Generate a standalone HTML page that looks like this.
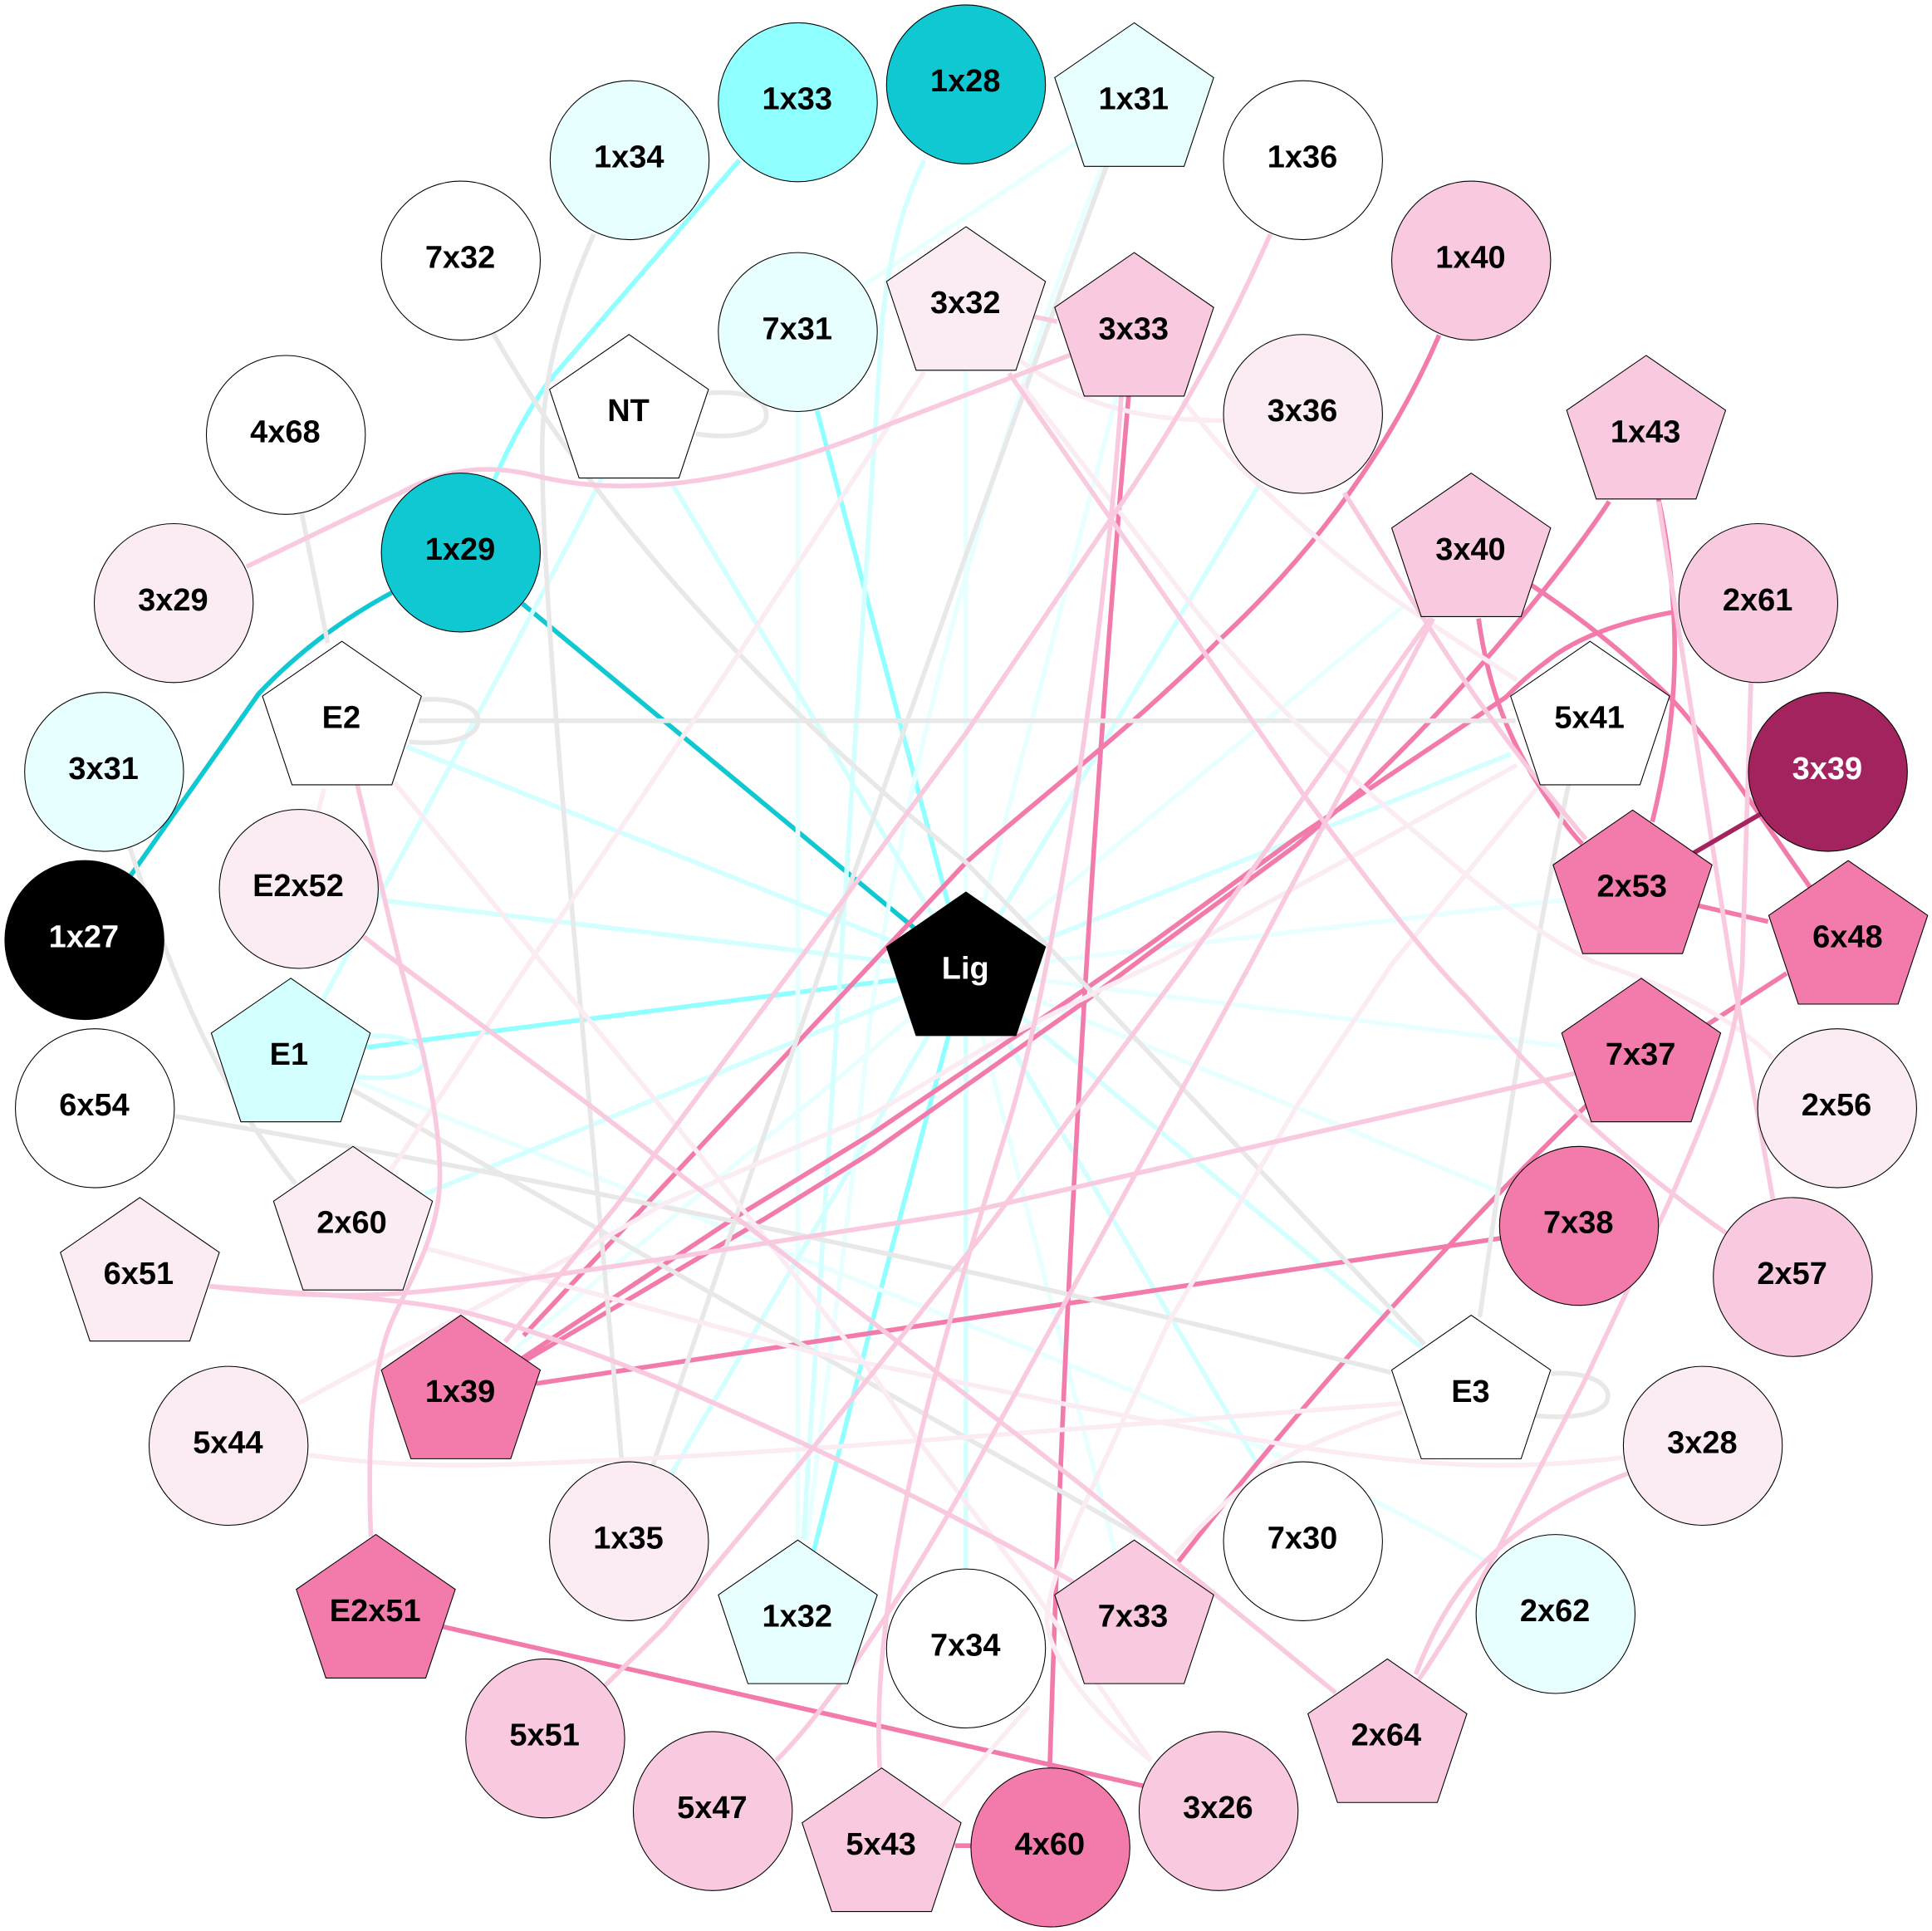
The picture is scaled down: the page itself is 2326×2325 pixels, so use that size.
<!DOCTYPE html>
<html><head><meta charset="utf-8"><title>Diagram</title>
<style>
html,body{margin:0;padding:0;background:#fff}
svg{display:block}
text{font-family:"Liberation Sans",Arial,sans-serif;font-weight:bold;font-size:25.6px;text-anchor:middle;fill:#000;transform:translate(-.5px,-1.2px)}
text.w{fill:#fff}
path{fill:none;stroke-width:3.8;stroke-linejoin:round}
circle,use{stroke:#000;stroke-width:.72}
.a path{stroke:#e8ffff}.b path{stroke:#d4ffff}.c path{stroke:#8fffff}.d path{stroke:#10c8d2}
.e path{stroke:#e8e8e8}.f path{stroke:#fbebf3}.g path{stroke:#f9c9df}.h path{stroke:#f27bac}.i path{stroke:#a2235e}
</style></head><body>
<svg xmlns="http://www.w3.org/2000/svg" width="2326" height="2325" viewBox="0 0 1568 1567.3">
<defs><polygon id="p" points="0,-64.5 64.5,-20 40.5,52 -40.5,52 -64.5,-20"/></defs>
<rect width="1568" height="1568" fill="#fff"/>
<g class="d">
<path d="M424,490L784,788"/>
<path d="M105,712L210,563Q255,515 318,481"/>
</g>
<g class="c">
<path d="M600,130L445,310Q420,345 400,392"/>
<path d="M663,333L784,788"/>
<path d="M298,850L784,788"/>
<path d="M784,788L751.7,908L706,1080L655,1280"/>
</g>
<g class="a">
<path d="M895,135C825,300 725,640 702,866C690,980 672,1110 655,1250"/>
<path d="M875,115L700,232"/>
<path d="M647.5,333L647.5,1250"/>
<path d="M784,300L784,788"/>
<path d="M906,322L784,788"/>
<path d="M1139,492L784,788"/>
<path d="M1271,730L784,788"/>
<path d="M1268,849L784,788"/>
<path d="M1214,966L784,788"/>
<path d="M906,1264L784,788"/>
<path d="M287,877L876,1111C980,1155 1100,1205 1209,1269"/>
<path d="M417,1096L784,788"/>
</g>
<g class="b">
<path d="M750,130C733,165 722,205 716,260C705,400 682,800 652,1250"/>
<path d="M784,788L784,1275"/>
<path d="M545,392L784,788"/>
<path d="M490,385Q430,505 260,815"/>
<path d="M330,606L784,788"/>
<path d="M312,731L784,788"/>
<path d="M1021,395L784,788"/>
<path d="M1226,612L784,788"/>
<path d="M1154,1094L784,788"/>
<path d="M1021,1189L784,788"/>
<path d="M345,969L784,788"/>
<path d="M545,1196L784,788"/>
<path d="M298,841C322,839 345,846 345,859C345,873 315,877 290,874"/>
</g>
<g class="h">
<path d="M1168,272C1130,360 1070,445 989,520C920,590 840,650 784,700L425,1084"/>
<path d="M1306,407C1270,462 1190,560 1107,639L1052,686L931,775L879,814L708,935L621,989L425,1105"/>
<path d="M1357,497C1315,505 1280,517 1255,537C1240,548 1230,558 1222,566L1052,680L931,768L879,804L708,920L600,986L423,1103"/>
<path d="M1218,1005L435,1123"/>
<path d="M916,321Q870,850 852,1435"/>
<path d="M1200,502C1208,560 1225,600 1248,636C1260,655 1272,672 1284,685"/>
<path d="M1243,475C1285,503 1325,535 1359,570C1395,610 1430,665 1469,720"/>
<path d="M1346,405C1356,450 1360,500 1359,540C1358,585 1350,630 1341,667"/>
<path d="M1378,735L1435,748"/>
<path d="M1450,790L1365,845"/>
<path d="M1295,890Q1110,1070 956,1268"/>
<path d="M358,1320L930,1450"/>
<path d="M775,1498L790,1498"/>
</g>
<g class="e">
<path d="M482,190C455,250 440,310 440,365C440,500 470,800 505,1190"/>
<path d="M400,270C470,395 600,550 784,700L866,784L1156,1091"/>
<path d="M245,417L266,522"/>
<path d="M105,687C130,760 165,870 240,961"/>
<path d="M142,906Q640,990 1129,1114"/>
<path d="M285,884L929,1249"/>
<path d="M340,585L1230,585"/>
<path d="M898,135Q714,636 530,1189"/>
<path d="M1273,637Q1240,790 1201,1069"/>
<path d="M575,319C600,317 622,322 622,337C622,352 590,357 565,352"/>
<path d="M342,568C365,566 388,572 388,585C388,600 360,605 332,602"/>
<path d="M1259,1115C1282,1113 1305,1120 1305,1133C1305,1148 1275,1152 1246,1149"/>
</g>
<g class="f">
<path d="M750,302L590,545L434,775L317,950"/>
<path d="M320,635L434.6,775L549,913.6L708,1115L745,1169L833,1283L934,1429"/>
<path d="M263,640L258,660"/>
<path d="M827,292C845,305 860,314 876,321C895,329 908,332 921,335C945,340 970,341 994,341.5"/>
<path d="M829,312L966,490C1010,545 1070,610 1140,668C1190,710 1240,755 1294,781C1340,795 1400,820 1439,859"/>
<path d="M960,325C985,355 1000,375 1022,394C1060,430 1100,465 1140,492L1231,552"/>
<path d="M1231,621L1140,671.6L944,779.4L898.8,800.7L800.7,849.7L708,904.6L539,977L476.7,1013L242,1139"/>
<path d="M1247,640L1130,782L1053,897L948,1074L876,1230Q850,1290 849.7,1315C850,1340 880,1385 934,1429"/>
<path d="M345,1013L657,1097L876,1142C960,1158 1060,1178 1138,1185C1200,1192 1260,1190 1317,1183"/>
<path d="M954,1262C985,1225 1020,1195 1053,1178C1085,1163 1110,1154 1138,1146"/>
<path d="M251,1181C300,1188 340,1190 400,1189C600,1183 800,1165 1138,1139"/>
<path d="M760,1471L835,1385"/>
</g>
<g class="g">
<path d="M839,257L858,261"/>
<path d="M200,460L325,400C365,378 400,378 430,385C470,395 500,396 540,393C600,388 660,370 720,345L869,288"/>
<path d="M1031,190C1000,260 965,330 899,425L784,595L645,784L500,979L410,1089"/>
<path d="M910,321C900,480 860,780 817,917C770,1070 705,1280 714,1435"/>
<path d="M1161,502L961,784L797.5,1002L660,1175L539,1321L490,1369"/>
<path d="M1163,502L1014,784L784,1204Q690,1369 630,1429"/>
<path d="M1346,407L1378.5,613L1404.6,782L1439,974"/>
<path d="M1421,554L1414,784C1410,850 1385,905 1353,979L1285,1123L1213,1263Q1180,1321 1151,1364"/>
<path d="M1321,1196C1270,1215 1225,1245 1197,1276C1175,1300 1160,1330 1149,1359"/>
<path d="M1091,400L1153,498Q1210,590 1287,681"/>
<path d="M819,303L1058,645C1110,715 1160,780 1190,809C1240,865 1300,930 1401,1001"/>
<path d="M290,637L325,784C340,840 357,900 357,955C357,1000 335,1035 320,1068C302,1105 298,1170 301,1247"/>
<path d="M295,760L314,775L476.7,895.6L708,1073L876,1204L1084,1374"/>
<path d="M170,1044C240,1050 310,1052 368,1063C400,1070 450,1085 539,1121C640,1165 760,1220 871,1284"/>
<path d="M170,1044C230,1051 280,1053 320,1050C400,1045 600,1012 784,984L1279,871"/>
</g>
<g class="i"><path d="M1430,660L1370,695"/></g>

<circle cx="647.5" cy="83" r="64.5" fill="#8fffff"/><text x="647.5" y="90">1x33</text>
<circle cx="784" cy="68.5" r="64.5" fill="#10c8d2"/><text x="784" y="75.5">1x28</text>
<circle cx="511" cy="130" r="64.5" fill="#e8ffff"/><text x="511" y="137">1x34</text>
<circle cx="374" cy="211.5" r="64.5" fill="#fff"/><text x="374" y="218.5">7x32</text>
<circle cx="232" cy="353" r="64.5" fill="#fff"/><text x="232" y="360">4x68</text>
<circle cx="141" cy="489.5" r="64.5" fill="#fbebf3"/><text x="141" y="496.5">3x29</text>
<circle cx="84.5" cy="626.5" r="64.5" fill="#e8ffff"/><text x="84.5" y="633.5">3x31</text>
<circle cx="68.5" cy="763" r="64.5" fill="#000"/><text class="w" x="68.5" y="770">1x27</text>
<circle cx="242.5" cy="721.5" r="64.5" fill="#fbebf3"/><text x="242.5" y="728.5">E2x52</text>
<circle cx="374" cy="448.5" r="64.5" fill="#10c8d2"/><text x="374" y="455.5">1x29</text>
<circle cx="647.5" cy="269.5" r="64.5" fill="#e8ffff"/><text x="647.5" y="276.5">7x31</text>
<circle cx="1057.5" cy="130" r="64.5" fill="#fff"/><text x="1057.5" y="137">1x36</text>
<circle cx="1194" cy="211.5" r="64.5" fill="#f9c9df"/><text x="1194" y="218.5">1x40</text>
<circle cx="1057.5" cy="336" r="64.5" fill="#fbebf3"/><text x="1057.5" y="343">3x36</text>
<circle cx="1427" cy="489.5" r="64.5" fill="#f9c9df"/><text x="1427" y="496.5">2x61</text>
<circle cx="1483.5" cy="626.5" r="64.5" fill="#a2235e"/><text class="w" x="1483.5" y="633.5">3x39</text>
<circle cx="77" cy="899.5" r="64.5" fill="#fff"/><text x="77" y="906.5">6x54</text>
<circle cx="185.5" cy="1173.5" r="64.5" fill="#fbebf3"/><text x="185.5" y="1180.5">5x44</text>
<circle cx="510.5" cy="1251" r="64.5" fill="#fbebf3"/><text x="510.5" y="1258">1x35</text>
<circle cx="442.5" cy="1411" r="64.5" fill="#f9c9df"/><text x="442.5" y="1418">5x51</text>
<circle cx="578.5" cy="1470" r="64.5" fill="#f9c9df"/><text x="578.5" y="1477">5x47</text>
<circle cx="784" cy="1338" r="64.5" fill="#fff"/><text x="784" y="1345">7x34</text>
<circle cx="852.5" cy="1499.5" r="64.5" fill="#f27bac"/><text x="852.5" y="1506.5">4x60</text>
<circle cx="989" cy="1470" r="64.5" fill="#f9c9df"/><text x="989" y="1477">3x26</text>
<circle cx="1057.5" cy="1251" r="64.5" fill="#fff"/><text x="1057.5" y="1258">7x30</text>
<circle cx="1262.5" cy="1310" r="64.5" fill="#e8ffff"/><text x="1262.5" y="1317">2x62</text>
<circle cx="1382" cy="1173.5" r="64.5" fill="#fbebf3"/><text x="1382" y="1180.5">3x28</text>
<circle cx="1281.5" cy="995" r="64.5" fill="#f27bac"/><text x="1281.5" y="1002">7x38</text>
<circle cx="1491" cy="899.5" r="64.5" fill="#fbebf3"/><text x="1491" y="906.5">2x56</text>
<circle cx="1455" cy="1036.5" r="64.5" fill="#f9c9df"/><text x="1455" y="1043.5">2x57</text>

<use href="#p" x="510.5" y="336" fill="#fff"/><text x="510.5" y="343">NT</text>
<use href="#p" x="277.5" y="585" fill="#fff"/><text x="277.5" y="592">E2</text>
<use href="#p" x="784" y="248.5" fill="#fbebf3"/><text x="784" y="255.5">3x32</text>
<use href="#p" x="920.5" y="269.5" fill="#f9c9df"/><text x="920.5" y="276.5">3x33</text>
<use href="#p" x="920.5" y="83" fill="#e8ffff"/><text x="920.5" y="90">1x31</text>
<use href="#p" x="1336" y="353" fill="#f9c9df"/><text x="1336" y="360">1x43</text>
<use href="#p" x="1194" y="448.5" fill="#f9c9df"/><text x="1194" y="455.5">3x40</text>
<use href="#p" x="1290.5" y="585" fill="#fff"/><text x="1290.5" y="592">5x41</text>
<use href="#p" x="1325" y="722" fill="#f27bac"/><text x="1325" y="729">2x53</text>
<use href="#p" x="1500" y="763" fill="#f27bac"/><text x="1500" y="770">6x48</text>
<use href="#p" x="784" y="788.5" fill="#000"/><text class="w" x="784" y="795.5">Lig</text>
<use href="#p" x="236" y="858.5" fill="#d4ffff"/><text x="235" y="865.5">E1</text>
<use href="#p" x="286.5" y="995" fill="#fbebf3"/><text x="286" y="1002">2x60</text>
<use href="#p" x="113.5" y="1036.5" fill="#fbebf3"/><text x="113" y="1043.5">6x51</text>
<use href="#p" x="374" y="1132" fill="#f27bac"/><text x="374" y="1139">1x39</text>
<use href="#p" x="305" y="1310" fill="#f27bac"/><text x="305" y="1317">E2x51</text>
<use href="#p" x="647.5" y="1314.5" fill="#e8ffff"/><text x="647.5" y="1321.5">1x32</text>
<use href="#p" x="715.5" y="1499.5" fill="#f9c9df"/><text x="715.5" y="1506.5">5x43</text>
<use href="#p" x="920.5" y="1314.5" fill="#f9c9df"/><text x="920" y="1321.5">7x33</text>
<use href="#p" x="1126" y="1411" fill="#f9c9df"/><text x="1125.5" y="1418">2x64</text>
<use href="#p" x="1194" y="1132" fill="#fff"/><text x="1194" y="1139">E3</text>
<use href="#p" x="1332" y="858.5" fill="#f27bac"/><text x="1332" y="865.5">7x37</text>
</svg>
</body></html>
